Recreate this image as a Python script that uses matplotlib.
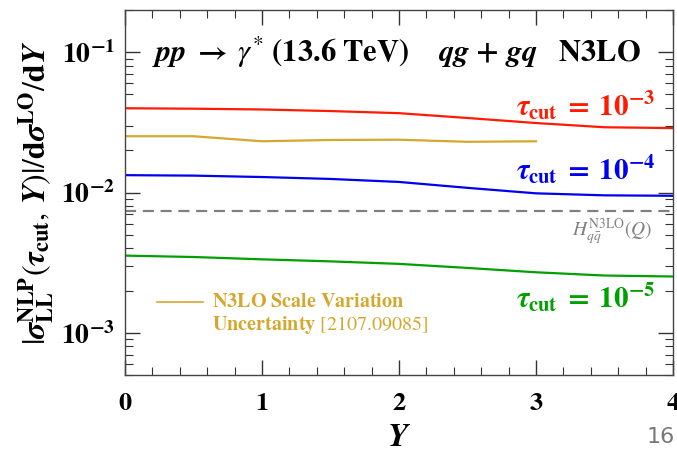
import numpy as np
import matplotlib
matplotlib.use("Agg")
import matplotlib.pyplot as plt
from matplotlib.ticker import FixedLocator, NullFormatter

plt.rcParams["mathtext.fontset"] = "stix"
plt.rcParams["font.family"] = "serif"
plt.rcParams["font.serif"] = ["STIXGeneral", "DejaVu Serif"]

# NLP leading-log power corrections vs rapidity
Y = [0.0, 0.5, 1.0, 1.5, 2.0, 2.5, 3.0, 3.5, 4.0]
tau_1e3 = [0.0399, 0.0396, 0.0391, 0.0381, 0.0368, 0.0340, 0.0313, 0.0292, 0.0288]
tau_1e4 = [0.0133, 0.0132, 0.0129, 0.0125, 0.0119, 0.0108, 0.00987, 0.00955, 0.00948]
tau_1e5 = [0.00355, 0.00347, 0.00334, 0.00323, 0.00310, 0.00290, 0.00270, 0.00256, 0.00252]

# N3LO scale variation (reference)
Y_scale = [0.0, 0.5, 1.0, 1.5, 2.0, 2.5, 3.0]
scale_var = [0.0252, 0.0252, 0.0232, 0.0237, 0.0238, 0.0230, 0.0232]

H_n3lo = 0.00738

red = "#ff1a00"
blue = "#0000ee"
green = "#00a000"
gold = "#d4a82e"
grey = "#808080"

fig = plt.figure(figsize=(6.77, 4.57), dpi=100)
ax = fig.add_axes([0.1846, 0.1794, 0.8095, 0.7986])

ax.plot(Y, tau_1e3, color=red, lw=1.6)
ax.plot(Y_scale, scale_var, color=gold, lw=1.6)
ax.plot(Y, tau_1e4, color=blue, lw=1.6)
ax.axhline(H_n3lo, color=grey, lw=1.6, ls=(0, (5, 3)))
ax.plot(Y, tau_1e5, color=green, lw=1.6)

ax.set_yscale("log")
ax.set_xlim(0, 4)
ax.set_ylim(5e-4, 0.2)

ax.xaxis.set_major_locator(FixedLocator([0, 1, 2, 3, 4]))
ax.xaxis.set_minor_locator(FixedLocator(np.arange(0, 4.01, 0.2)))
ax.set_xticklabels([r"$\mathbf{%d}$" % i for i in range(5)])
ax.yaxis.set_major_locator(FixedLocator([1e-3, 1e-2, 1e-1]))
ax.set_yticklabels([r"$\mathbf{10^{-3}}$", r"$\mathbf{10^{-2}}$", r"$\mathbf{10^{-1}}$"])
minors = [m * 10.0 ** e for e in (-4, -3, -2, -1) for m in range(2, 10)]
ax.yaxis.set_minor_locator(FixedLocator(minors))
ax.yaxis.set_minor_formatter(NullFormatter())

ax.tick_params(which="both", direction="in", top=True, right=True, colors="#333333", labelcolor="black")
ax.tick_params(which="major", length=11, width=1.0, labelsize=19)
ax.tick_params(axis="y", which="major", labelsize=20, pad=7)
ax.tick_params(axis="x", which="major", pad=12)
ax.tick_params(which="minor", length=6, width=0.8)
for s in ax.spines.values():
    s.set_color("#444444")
    s.set_linewidth(1.0)

ax.set_xlabel(r"$\boldsymbol{Y}$", fontsize=24, labelpad=6)
ax.set_ylabel(r"$|\boldsymbol{\sigma}^{\mathbf{NLP}}_{\mathbf{LL}}(\boldsymbol{\tau}_{\mathbf{cut}},\,\boldsymbol{Y})|/\mathbf{d}\boldsymbol{\sigma}^{\mathbf{LO}}/\mathbf{d}\boldsymbol{Y}$",
              fontsize=23, labelpad=3)

ax.text(0.2, 0.1, r"$\boldsymbol{pp}\ \boldsymbol{\rightarrow}\ \boldsymbol{\gamma^{*}}\ \mathbf{(13.6\ TeV)}\quad\ \boldsymbol{qg}\ \mathbf{+}\ \boldsymbol{gq}\ \ \ \mathbf{N3LO}$",
        fontsize=22, ha="left", va="center")

lab = r"$\boldsymbol{\tau}_{\mathbf{cut}}\;\mathbf{=\;10^{-%d}}$"
ax.text(3.87, 0.0415, lab % 3, color=red, fontsize=21, ha="right", va="center")
ax.text(3.87, 0.0145, lab % 4, color=blue, fontsize=21, ha="right", va="center")
ax.text(3.87, 0.00177, lab % 5, color=green, fontsize=21, ha="right", va="center")
ax.text(3.85, 0.00523, r"$H^{\mathrm{N3LO}}_{q\bar{q}}(Q)$", color=grey, fontsize=14, ha="right", va="center")

# legend entry drawn by hand
ax.plot([0.234, 0.57], [0.00166, 0.00166], color=gold, lw=1.2)
ax.text(0.635, 0.00166, r"$\mathbf{N3LO\ Scale\ Variation}$", color=gold, fontsize=14.5, ha="left", va="center")
ax.text(0.635, 0.00114, r"$\mathbf{Uncertainty}\ \mathrm{[2107.09085]}$", color=gold, fontsize=14.5, ha="left", va="center")

fig.text(0.997, 0.043, "16", color="#777777", fontsize=16, family="DejaVu Sans", ha="right", va="center")

fig.savefig("out.png", dpi=100)
